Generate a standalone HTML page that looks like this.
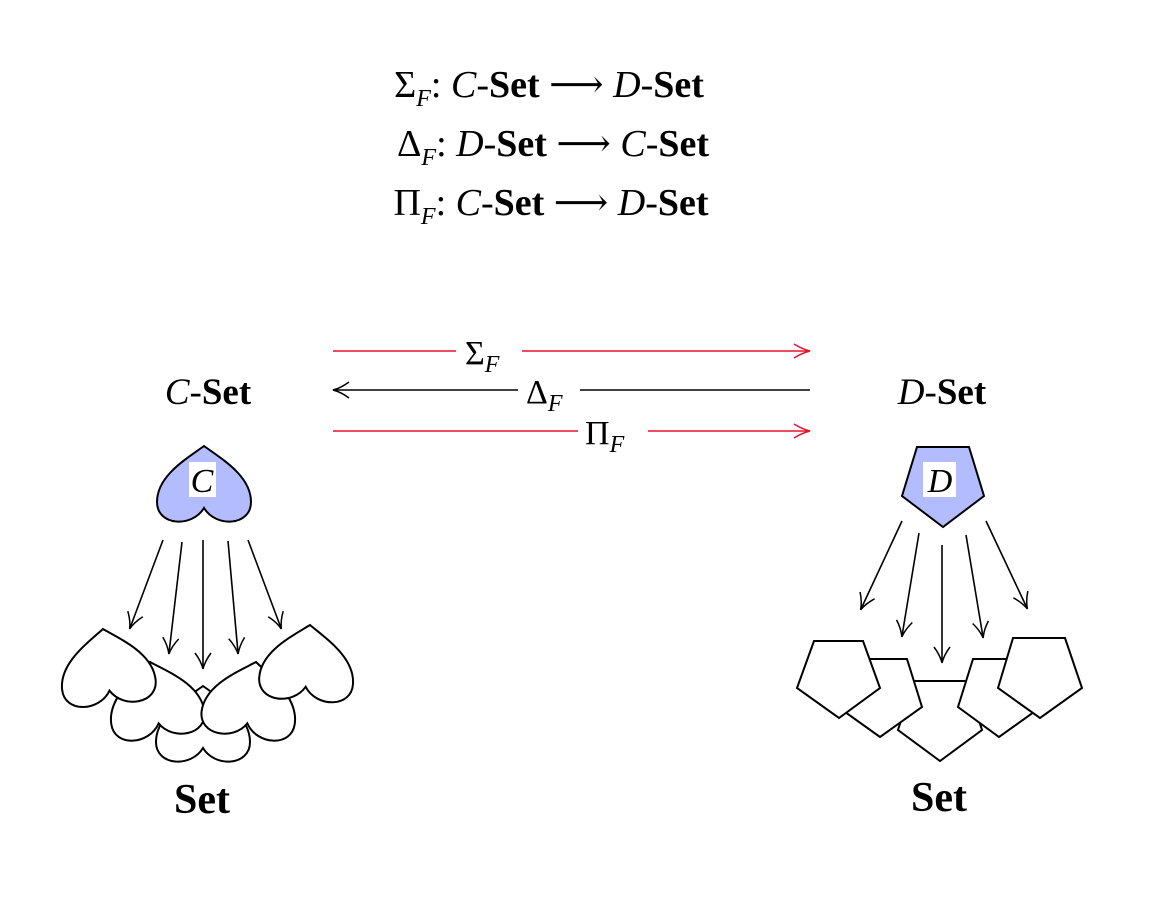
<!DOCTYPE html>
<html><head><meta charset="utf-8"><style>
html,body{margin:0;padding:0;background:#fff;}
svg{display:block;}
text{font-family:"Liberation Serif","DejaVu Serif",serif;}
.b{font-weight:bold;}
.i{font-style:italic;}
</style></head><body>
<svg width="1174" height="902" viewBox="0 0 1174 902" xmlns="http://www.w3.org/2000/svg">
<defs>
<marker id="ab" markerWidth="18" markerHeight="18" refX="16" refY="9" orient="auto" markerUnits="userSpaceOnUse">
<path d="M1,1 Q9,7 17,9 Q9,11 1,17" fill="none" stroke="#000" stroke-width="1.5"/></marker>
<marker id="ar" markerWidth="18" markerHeight="18" refX="16" refY="9" orient="auto" markerUnits="userSpaceOnUse">
<path d="M1,2 Q9,7 17,9 Q9,11 1,16" fill="none" stroke="#e8132b" stroke-width="1.5"/></marker>
<path id="h" d="M0,0 C18,13 47,30 47,56 C47,80 12,82 0,62 C-12,82 -47,80 -47,56 C-47,30 -18,13 0,0 Z"/>
</defs>

<g font-size="38" text-anchor="middle">
<text x="549" y="97">Σ<tspan class="i" font-size="24" dy="9">F</tspan><tspan dy="-9">: </tspan><tspan class="i">C</tspan>-<tspan class="b">Set</tspan> ⟶ <tspan class="i">D</tspan>-<tspan class="b">Set</tspan></text>
<text x="553" y="156">Δ<tspan class="i" font-size="24" dy="9">F</tspan><tspan dy="-9">: </tspan><tspan class="i">D</tspan>-<tspan class="b">Set</tspan> ⟶ <tspan class="i">C</tspan>-<tspan class="b">Set</tspan></text>
<text x="551" y="215">Π<tspan class="i" font-size="24" dy="9">F</tspan><tspan dy="-9">: </tspan><tspan class="i">C</tspan>-<tspan class="b">Set</tspan> ⟶ <tspan class="i">D</tspan>-<tspan class="b">Set</tspan></text>
</g>

<line x1="333" y1="351" x2="809" y2="351" stroke="#e8132b" stroke-width="1.4" marker-end="url(#ar)"/>
<line x1="810" y1="390" x2="334" y2="390" stroke="#000" stroke-width="1.4" marker-end="url(#ab)"/>
<line x1="333" y1="431" x2="809" y2="431" stroke="#e8132b" stroke-width="1.4" marker-end="url(#ar)"/>
<rect x="456" y="330" width="66" height="40" fill="#fff"/>
<rect x="518" y="370" width="62" height="40" fill="#fff"/>
<rect x="578" y="410" width="70" height="40" fill="#fff"/>
<g font-size="34">
<text x="465" y="364">Σ<tspan class="i" font-size="24" dy="8">F</tspan></text>
<text x="526" y="403">Δ<tspan class="i" font-size="24" dy="8">F</tspan></text>
<text x="585" y="444">Π<tspan class="i" font-size="24" dy="8">F</tspan></text>
</g>

<g font-size="37" text-anchor="middle">
<text x="208" y="404"><tspan class="i">C</tspan>-<tspan class="b">Set</tspan></text>
<text x="942" y="404"><tspan class="i">D</tspan>-<tspan class="b">Set</tspan></text>
<text class="b" x="202" y="813" font-size="42">Set</text>
<text class="b" x="939" y="811" font-size="42">Set</text>
</g>

<use href="#h" transform="translate(204,446)" fill="#b3bcff" stroke="#000" stroke-width="2"/>
<rect x="189" y="462" width="27" height="35" fill="#fff"/>
<text x="202" y="492" font-size="34" class="i" text-anchor="middle">C</text>
<g stroke="#000" stroke-width="1.6" fill="none">
<line x1="163" y1="540" x2="130" y2="628" marker-end="url(#ab)"/>
<line x1="182" y1="542" x2="169" y2="653" marker-end="url(#ab)"/>
<line x1="203" y1="540" x2="203" y2="668" marker-end="url(#ab)"/>
<line x1="228" y1="541" x2="238" y2="653" marker-end="url(#ab)"/>
<line x1="248" y1="540" x2="281" y2="628" marker-end="url(#ab)"/>
</g>
<g fill="#fff" stroke="#000" stroke-width="2">
<use href="#h" transform="translate(203,686)"/>
<use href="#h" transform="translate(150,662) rotate(-8)"/>
<use href="#h" transform="translate(256,662) rotate(8)"/>
<use href="#h" transform="translate(103,629) rotate(-6)"/>
<use href="#h" transform="translate(310,625) rotate(4)"/>
</g>

<polygon points="917,447 969,447 984,496 943,527 902,496" fill="#b3bcff" stroke="#000" stroke-width="2"/>
<rect x="923" y="462" width="33" height="35" fill="#fff"/>
<text x="940" y="492" font-size="34" class="i" text-anchor="middle">D</text>
<g stroke="#000" stroke-width="1.6" fill="none">
<line x1="902" y1="521" x2="861" y2="609" marker-end="url(#ab)"/>
<line x1="919" y1="533" x2="902" y2="636" marker-end="url(#ab)"/>
<line x1="942" y1="545" x2="942" y2="662" marker-end="url(#ab)"/>
<line x1="966" y1="535" x2="983" y2="637" marker-end="url(#ab)"/>
<line x1="986" y1="521" x2="1027" y2="608" marker-end="url(#ab)"/>
</g>
<g fill="#fff" stroke="#000" stroke-width="2">
<polygon points="914,681 966,681 982,730 940,761 898,730"/>
<polygon points="855,659 907,659 922,707 880,737 838,707"/>
<polygon points="973,659 1025,659 1041,707 999,737 958,707"/>
<polygon points="814,641 863,641 880,688 839,718 797,688"/>
<polygon points="1013,638 1065,638 1082,688 1040,718 998,688"/>
</g>
</svg>
</body></html>
